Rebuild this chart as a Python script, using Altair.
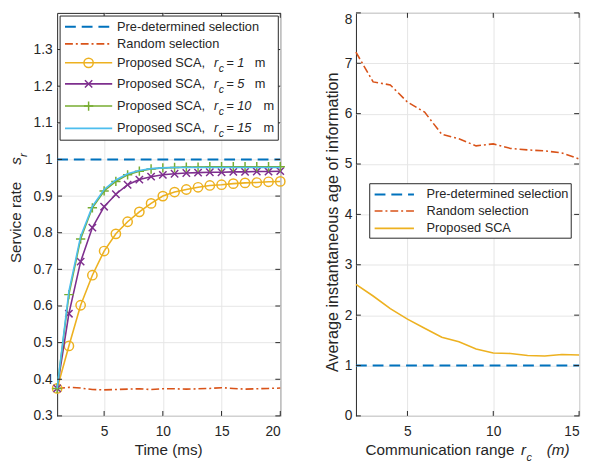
import altair as alt
import pandas as pd

# ---------------- data ----------------
time_ms = list(range(1, 21))
pre_rate = [1.0] * 20
rand_rate = [0.375, 0.378, 0.376, 0.372, 0.371, 0.372, 0.373, 0.374, 0.372, 0.374,
             0.374, 0.373, 0.374, 0.375, 0.377, 0.375, 0.373, 0.374, 0.375, 0.376]
sca_rc1 = [0.375, 0.491, 0.602, 0.684, 0.750, 0.797, 0.830, 0.857, 0.880, 0.900,
           0.911, 0.918, 0.924, 0.929, 0.931, 0.934, 0.936, 0.937, 0.939, 0.940]
sca_rc5 = [0.375, 0.579, 0.721, 0.814, 0.871, 0.905, 0.931, 0.945, 0.953, 0.958,
           0.961, 0.963, 0.964, 0.965, 0.965, 0.966, 0.966, 0.967, 0.967, 0.968]
sca_rc10 = [0.375, 0.631, 0.783, 0.868, 0.914, 0.940, 0.958, 0.968, 0.974, 0.977,
            0.978, 0.979, 0.979, 0.980, 0.980, 0.980, 0.980, 0.980, 0.980, 0.980]
sca_rc15 = [0.375, 0.640, 0.790, 0.872, 0.918, 0.944, 0.961, 0.970, 0.975, 0.977,
            0.978, 0.978, 0.978, 0.978, 0.978, 0.978, 0.978, 0.978, 0.978, 0.978]

comm_range = list(range(2, 16))
pre_aoi = [1.0] * 14
rand_aoi = [7.22, 6.63, 6.57, 6.23, 6.03, 5.59, 5.50, 5.36, 5.40, 5.31, 5.28, 5.26, 5.22, 5.10]
sca_aoi = [2.61, 2.38, 2.13, 1.92, 1.74, 1.56, 1.47, 1.33, 1.25, 1.24, 1.20, 1.19, 1.22, 1.21]

left_y_ticks = [0.3, 0.4, 0.5, 0.6, 0.7, 0.8, 0.9, 1.0, 1.1, 1.2, 1.3]
left_x_ticks = [5, 10, 15, 20]
right_y_ticks = [0, 1, 2, 3, 4, 5, 6, 7, 8]
right_x_ticks = [5, 10, 15]

left_legend = ["Pre-determined selection", "Random selection",
               "Proposed SCA,", "Proposed SCA,", "Proposed SCA,", "Proposed SCA,"]
left_legend_rc = ["", "", "= 1", "= 5", "= 10", "= 15"]
right_legend = ["Pre-determined selection", "Random selection", "Proposed SCA"]

# ---------------- style ----------------
FONT = "Liberation Sans"
TXT = "#262626"
FRAME = "#262626"
BLUE, ORANGE, YELLOW = "#0072BD", "#D95319", "#EDB120"
PURPLE, GREEN, CYAN = "#7E2F8E", "#77AC30", "#4DBEEE"
DASH = [11, 6]
DASHDOT = [8, 3, 2, 3]
XPATH = "M-1,-1L1,1M-1,1L1,-1"
PPATH = "M-1,0L1,0M0,-1L0,1"
TITLE_SIZE = 15.5

W, H = 227, 410
XT_BASE = 450  # x-title baseline, relative to plot top
one = pd.DataFrame({"k": [0]})


def txt(s, x, y, size=13, style="normal", align="left", baseline="middle", angle=0):
    props = dict(text=s, font=FONT, fontSize=size, fontStyle=style, align=align,
                 baseline=baseline, color=TXT)
    if angle:
        props["angle"] = angle
    return alt.Chart(one).mark_text(**props).encode(x=alt.value(x), y=alt.value(y))


def hline(x1, x2, y, color, dash=None, width=1.6):
    props = dict(color=color, strokeWidth=width)
    if dash:
        props["strokeDash"] = dash
    return alt.Chart(one).mark_rule(**props).encode(
        x=alt.value(x1), x2=alt.value(x2), y=alt.value(y))


def inner_ticks(xvals, yvals, xs, ys, ax_x, ax_y):
    tx = pd.DataFrame({"x": xvals})
    ty = pd.DataFrame({"y": yvals})
    layers = []
    for a, b in [(H, H - 5), (0, 5)]:
        layers.append(alt.Chart(tx).mark_rule(color=FRAME, strokeWidth=1).encode(
            x=alt.X("x:Q", scale=xs, axis=ax_x), y=alt.value(a), y2=alt.value(b)))
    for a, b in [(0, 5), (W - 5, W)]:
        layers.append(alt.Chart(ty).mark_rule(color=FRAME, strokeWidth=1).encode(
            y=alt.Y("y:Q", scale=ys, axis=ax_y), x=alt.value(a), x2=alt.value(b)))
    return layers


def series(xv, yv, xs, ys, ax_x, ax_y, color, dash=None, width=1.6):
    df = pd.DataFrame({"x": xv, "y": yv})
    props = dict(color=color, strokeWidth=width)
    if dash:
        props["strokeDash"] = dash
    return alt.Chart(df).mark_line(**props).encode(
        x=alt.X("x:Q", scale=xs, axis=ax_x), y=alt.Y("y:Q", scale=ys, axis=ax_y))


def markers(xv, yv, xs, ys, ax_x, ax_y, color, shape, size):
    df = pd.DataFrame({"x": xv, "y": yv})
    return alt.Chart(df).mark_point(shape=shape, size=size, filled=False, color=color,
                                    strokeWidth=1.5, opacity=1).encode(
        x=alt.X("x:Q", scale=xs, axis=ax_x), y=alt.Y("y:Q", scale=ys, axis=ax_y))


# ---------------- left panel ----------------
lxs = alt.Scale(domain=[1, 20], nice=False, zero=False)
lys = alt.Scale(domain=[0.3, 1.4], nice=False, zero=False)
lax_x = alt.Axis(values=left_x_ticks, title=None, labelPadding=9, grid=True)
lax_y = alt.Axis(values=left_y_ticks, title=None, labelPadding=5, grid=True, format="~g")

left_layers = []
left_layers.append(series(time_ms, pre_rate, lxs, lys, lax_x, lax_y, BLUE, DASH, 2))
left_layers.append(series(time_ms, rand_rate, lxs, lys, lax_x, lax_y, ORANGE, DASHDOT, 1.6))
left_layers.append(series(time_ms, sca_rc1, lxs, lys, lax_x, lax_y, YELLOW))
left_layers.append(markers(time_ms, sca_rc1, lxs, lys, lax_x, lax_y, YELLOW, "circle", 90))
left_layers.append(series(time_ms, sca_rc5, lxs, lys, lax_x, lax_y, PURPLE))
left_layers.append(markers(time_ms, sca_rc5, lxs, lys, lax_x, lax_y, PURPLE, XPATH, 56))
left_layers.append(series(time_ms, sca_rc10, lxs, lys, lax_x, lax_y, GREEN))
left_layers.append(markers(time_ms, sca_rc10, lxs, lys, lax_x, lax_y, GREEN, PPATH, 90))
left_layers.append(series(time_ms, sca_rc15, lxs, lys, lax_x, lax_y, CYAN))
left_layers += inner_ticks(left_x_ticks, left_y_ticks, lxs, lys, lax_x, lax_y)

# legend (left)
left_layers.append(alt.Chart(one).mark_rect(fill="white", stroke=FRAME, strokeWidth=1).encode(
    x=alt.value(3), x2=alt.value(225), y=alt.value(3.2), y2=alt.value(129.5)))
rows = [14.2, 31.5, 50.8, 72.2, 94.8, 117.5]
lcols = [BLUE, ORANGE, YELLOW, PURPLE, GREEN, CYAN]
ldash = [DASH, DASHDOT, None, None, None, None]
lmark = [None, None, ("circle", 90), (XPATH, 56), (PPATH, 90), None]
for i, ry in enumerate(rows):
    left_layers.append(hline(8, 56, ry, lcols[i], ldash[i], 2 if i == 0 else 1.6))
    if lmark[i]:
        left_layers.append(alt.Chart(one).mark_point(
            shape=lmark[i][0], size=lmark[i][1], filled=False, color=lcols[i],
            strokeWidth=1.5, opacity=1).encode(x=alt.value(32), y=alt.value(ry)))
    left_layers.append(txt(left_legend[i], 61, ry))
    if left_legend_rc[i]:
        left_layers.append(txt("r", 159.5, ry, style="italic"))
        left_layers.append(txt("c", 164.5, ry + 6, size=10.5, style="italic"))
        left_layers.append(txt(left_legend_rc[i], 172, ry, style="italic"))
        mx = 201 if len(left_legend_rc[i]) == 3 else 210
        left_layers.append(txt("m", mx, ry))

# titles (left)
left_layers.append(txt("Time (ms)", W / 2, XT_BASE, size=TITLE_SIZE, align="center",
                       baseline="alphabetic"))
left_layers.append(txt("Service rate", -37, 254.5, size=TITLE_SIZE, align="left",
                       baseline="alphabetic", angle=270))
left_layers.append(txt("s", -37, 154.5, size=TITLE_SIZE, style="italic", align="left",
                       baseline="alphabetic", angle=270))
left_layers.append(txt("r", -31, 146.5, size=12, style="italic", align="left",
                       baseline="alphabetic", angle=270))

left = alt.layer(*left_layers).properties(width=W, height=H)

# ---------------- right panel ----------------
rxs = alt.Scale(domain=[2, 15], nice=False, zero=False)
rys = alt.Scale(domain=[0, 8], nice=False, zero=False)
rax_x = alt.Axis(values=right_x_ticks, title=None, labelPadding=9, grid=True,
                 labelAlign={"condition": {"test": "datum.value == 15", "value": "right"},
                             "value": "center"})
rax_y = alt.Axis(values=right_y_ticks, title=None, labelPadding=4, grid=True,
                 labelBaseline={"condition": {"test": "datum.value == 8", "value": "top"},
                                "value": "middle"})

right_layers = []
right_layers.append(series(comm_range, pre_aoi, rxs, rys, rax_x, rax_y, BLUE, DASH, 2))
right_layers.append(series(comm_range, rand_aoi, rxs, rys, rax_x, rax_y, ORANGE, DASHDOT, 1.6))
right_layers.append(series(comm_range, sca_aoi, rxs, rys, rax_x, rax_y, YELLOW))
right_layers += inner_ticks(right_x_ticks, right_y_ticks, rxs, rys, rax_x, rax_y)

right_layers.append(alt.Chart(one).mark_rect(fill="white", stroke=FRAME, strokeWidth=1).encode(
    x=alt.value(14), x2=alt.value(219), y=alt.value(173.8), y2=alt.value(229.2)))
rrows = [184.8, 201.5, 219.2]
rcols = [BLUE, ORANGE, YELLOW]
rdash = [DASH, DASHDOT, None]
for i, ry in enumerate(rrows):
    right_layers.append(hline(19, 59, ry, rcols[i], rdash[i], 2 if i == 0 else 1.6))
    right_layers.append(txt(right_legend[i], 71.7, ry))

right_layers.append(txt("Communication range", 9.7, XT_BASE, size=TITLE_SIZE, baseline="alphabetic"))
right_layers.append(txt("r", 168, XT_BASE, size=TITLE_SIZE, style="italic", baseline="alphabetic"))
right_layers.append(txt("c", 173.5, XT_BASE + 5.5, size=11, style="italic", baseline="alphabetic"))
right_layers.append(txt("(m)", 194, XT_BASE, size=TITLE_SIZE, style="italic", baseline="alphabetic"))
right_layers.append(txt("Average instantaneous age of information", -18, 213, size=16.5,
                        align="center", baseline="alphabetic", angle=270))

right = alt.layer(*right_layers).properties(width=W, height=H)

chart = alt.hconcat(left, right, spacing=36).properties(
    padding={"left": 0, "top": 0, "right": 0, "bottom": 0},
    background="white",
).configure_view(stroke=FRAME, strokeWidth=1).configure_axis(
    labelFont=FONT, labelFontSize=14, labelColor=TXT, domain=False, ticks=False,
    tickSize=0, gridColor="#e6e6e6", gridWidth=1,
)

chart.save("out.html", embed_options={"renderer": "svg", "actions": False})
